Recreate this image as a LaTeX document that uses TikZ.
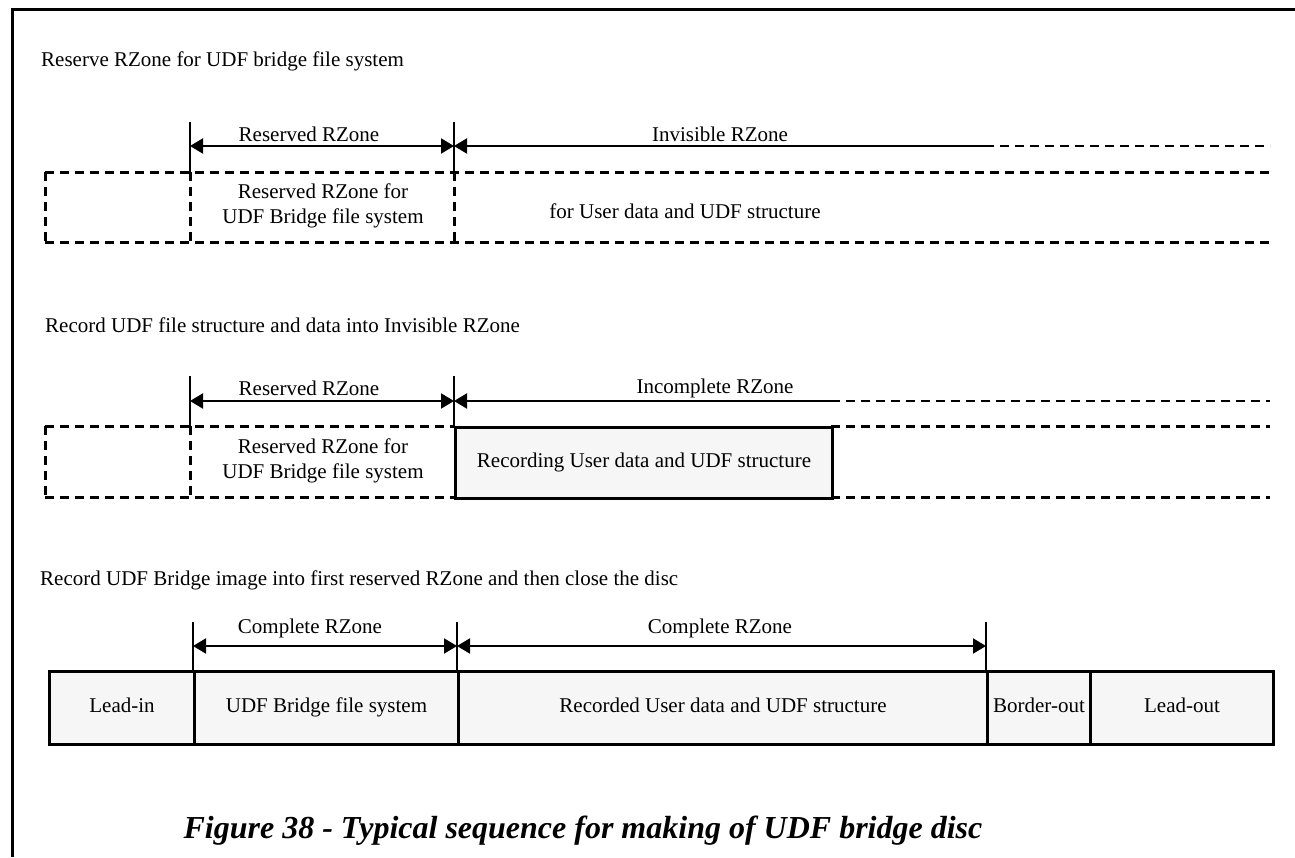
\documentclass[tikz,border=0pt]{standalone}
\usepackage{fontspec}
\setmainfont{Liberation Serif}
\usetikzlibrary{arrows.meta}
\tikzset{
  lbl/.style={font=\fontsize{21}{25}\selectfont, inner sep=0pt},
  frameline/.style={line width=3pt},
  tickline/.style={line width=1.6pt},
  dimarrow/.style={line width=2pt, {Triangle[length=13pt,width=15pt]}-{Triangle[length=13pt,width=15pt]}},
  larrow/.style={line width=2pt, {Triangle[length=13pt,width=15pt]}-},
  dashline/.style={line width=3pt, dash pattern=on 9pt off 6pt},
  thindash/.style={line width=2pt, dash pattern=on 9pt off 6pt},
  zone/.style={draw, line width=3pt, fill=gray!7, minimum height=73pt, inner sep=0pt, text height=14pt, text depth=5pt, anchor=north west, font=\fontsize{21}{25}\selectfont},
  captionstyle/.style={font=\fontsize{32}{36}\selectfont\bfseries\itshape, inner sep=0pt}
}
\begin{document}
\begin{tikzpicture}[x=1pt,y=-1pt]
\useasboundingbox (0,0) rectangle (1295,857);
% frame
\coordinate (fa) at (11,9); \coordinate (fb) at (1295,9);
\coordinate (fc) at (12,9); \coordinate (fd) at (12,857);
\draw[frameline] (fa) -- (fb);
\draw[frameline] (fc) -- (fd);

% ---------------- section 1
\node[lbl, anchor=west] (t1) at (41,61) {Reserve RZone for UDF bridge file system};
\coordinate (a1) at (190,122); \coordinate (b1) at (454,122);
\coordinate (a1m) at (190,146); \coordinate (b1m) at (454,146);
\coordinate (a1t) at (190,172); \coordinate (b1t) at (454,172);
\coordinate (a1b) at (190,242); \coordinate (b1b) at (454,242);
\coordinate (l1t) at (45,172); \coordinate (l1b) at (45,242);
\coordinate (r1t) at (1270,172); \coordinate (r1b) at (1270,242);
\coordinate (inv1) at (985,146); \coordinate (inv1e) at (1270,146);
\draw[tickline] (a1) -- (a1t);
\draw[tickline] (b1) -- (b1t);
\draw[dimarrow] (a1m) -- (b1m);
\draw[larrow] (b1m) -- (inv1);
\draw[thindash] (inv1) -- (inv1e);
\draw[dashline] (l1t) -- (r1t);
\draw[dashline] (l1b) -- (r1b);
\draw[dashline] (l1t) -- (l1b);
\draw[dashline] (a1t) -- (a1b);
\draw[dashline] (b1t) -- (b1b);
\node[lbl] (res1) at (309,134) {Reserved RZone};
\node[lbl] (inv1l) at (720,134) {Invisible RZone};
\node[lbl, align=center] (rbox1) at (323,206) {Reserved RZone for\\UDF Bridge file system};
\node[lbl] (user1) at (685,211) {for User data and UDF structure};

% ---------------- section 2
\node[lbl, anchor=west] (t2) at (45,325) {Record UDF file structure and data into Invisible RZone};
\coordinate (a2) at (190,376); \coordinate (b2) at (454,376);
\coordinate (a2m) at (190,401); \coordinate (b2m) at (454,401);
\coordinate (a2t) at (190,426); \coordinate (b2t) at (454,426);
\coordinate (a2b) at (190,497); \coordinate (b2b) at (454,497);
\coordinate (l2t) at (45,426); \coordinate (l2b) at (45,497);
\coordinate (c2t) at (831,426); \coordinate (c2b) at (831,497);
\coordinate (r2t) at (1270,426); \coordinate (r2b) at (1270,497);
\coordinate (inc2) at (831,401); \coordinate (inc2e) at (1270,401);
\draw[tickline] (a2) -- (a2t);
\draw[tickline] (b2) -- (b2t);
\draw[dimarrow] (a2m) -- (b2m);
\draw[larrow] (b2m) -- (inc2);
\draw[thindash] (inc2) -- (inc2e);
\draw[dashline] (l2t) -- (b2t);
\draw[dashline] (l2b) -- (b2b);
\draw[dashline] (c2t) -- (r2t);
\draw[dashline] (c2b) -- (r2b);
\draw[dashline] (l2t) -- (l2b);
\draw[dashline] (a2t) -- (a2b);
\node[zone, minimum width=377pt, minimum height=71pt] (rec2) at (b2t) {Recording User data and UDF structure};
\node[lbl] (res2) at (309,388) {Reserved RZone};
\node[lbl] (inc2l) at (715,388) {Incomplete RZone};
\node[lbl, align=center] (rbox2) at (323,461) {Reserved RZone for\\UDF Bridge file system};

% ---------------- section 3
\node[lbl, anchor=west] (t3) at (40,580) {Record UDF Bridge image into first reserved RZone and then close the disc};
\node[zone, minimum width=145pt] (leadin) at (48,670) {Lead-in};
\node[zone, minimum width=264pt] (bridge) at (193,670) {UDF Bridge file system};
\node[zone, minimum width=529pt] (recd) at (457,670) {Recorded User data and UDF structure};
\node[zone, minimum width=103pt] (border) at (986,670) {Border-out};
\node[zone, minimum width=183pt] (leadout) at (1089,670) {Lead-out};
\coordinate (a3) at (193,622); \coordinate (b3) at (457,622); \coordinate (c3) at (986,622);
\coordinate (a3m) at (193,646); \coordinate (b3m) at (457,646); \coordinate (c3m) at (986,646);
\draw[tickline] (a3) -- (bridge.north west);
\draw[tickline] (b3) -- (recd.north west);
\draw[tickline] (c3) -- (border.north west);
\draw[dimarrow] (a3m) -- (b3m);
\draw[dimarrow] (b3m) -- (c3m);
\node[lbl] (comp1) at (310,628) {Complete RZone};
\node[lbl] (comp2) at (720,628) {Complete RZone};

% caption
\node[captionstyle] (cap) at (583,831) {Figure 38 - Typical sequence for making of UDF bridge disc};
\end{tikzpicture}
\end{document}
